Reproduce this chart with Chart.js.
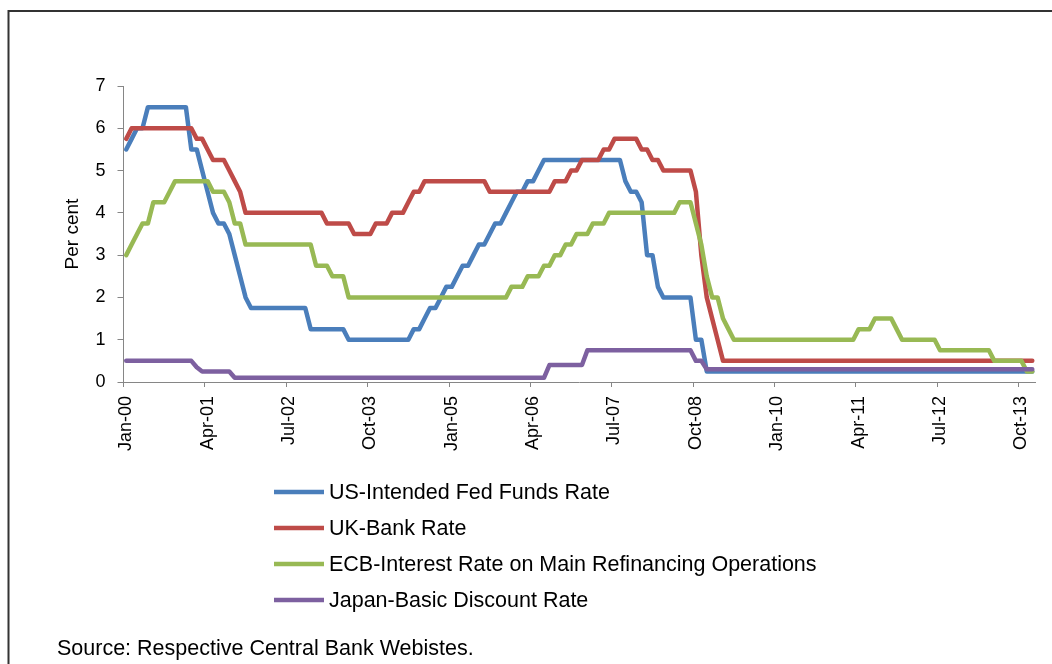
<!DOCTYPE html>
<html>
<head>
<meta charset="utf-8">
<title>Policy rates</title>
<script src="https://cdn.jsdelivr.net/npm/chart.js@4.4.0/dist/chart.umd.min.js"></script>
<style>
  html, body { margin: 0; padding: 0; background: #fff; }
  #wrap { position: relative; width: 1052px; height: 664px; }
</style>
</head>
<body>
<div id="wrap"><canvas id="rates"></canvas></div>
<script>
// Month-end policy rates, Jan-2000 .. Dec-2013 (one row per year)
const monthNames = ['Jan', 'Feb', 'Mar', 'Apr', 'May', 'Jun', 'Jul', 'Aug', 'Sep', 'Oct', 'Nov', 'Dec'];
const years = ['00', '01', '02', '03', '04', '05', '06', '07', '08', '09', '10', '11', '12', '13'];

const usRate = [
  5.50, 5.75, 6.00, 6.00, 6.50, 6.50, 6.50, 6.50, 6.50, 6.50, 6.50, 6.50,
  5.50, 5.50, 5.00, 4.50, 4.00, 3.75, 3.75, 3.50, 3.00, 2.50, 2.00, 1.75,
  1.75, 1.75, 1.75, 1.75, 1.75, 1.75, 1.75, 1.75, 1.75, 1.75, 1.25, 1.25,
  1.25, 1.25, 1.25, 1.25, 1.25, 1.00, 1.00, 1.00, 1.00, 1.00, 1.00, 1.00,
  1.00, 1.00, 1.00, 1.00, 1.00, 1.25, 1.25, 1.50, 1.75, 1.75, 2.00, 2.25,
  2.25, 2.50, 2.75, 2.75, 3.00, 3.25, 3.25, 3.50, 3.75, 3.75, 4.00, 4.25,
  4.50, 4.50, 4.75, 4.75, 5.00, 5.25, 5.25, 5.25, 5.25, 5.25, 5.25, 5.25,
  5.25, 5.25, 5.25, 5.25, 5.25, 5.25, 5.25, 5.25, 4.75, 4.50, 4.50, 4.25,
  3.00, 3.00, 2.25, 2.00, 2.00, 2.00, 2.00, 2.00, 2.00, 1.00, 1.00, 0.25,
  0.25, 0.25, 0.25, 0.25, 0.25, 0.25, 0.25, 0.25, 0.25, 0.25, 0.25, 0.25,
  0.25, 0.25, 0.25, 0.25, 0.25, 0.25, 0.25, 0.25, 0.25, 0.25, 0.25, 0.25,
  0.25, 0.25, 0.25, 0.25, 0.25, 0.25, 0.25, 0.25, 0.25, 0.25, 0.25, 0.25,
  0.25, 0.25, 0.25, 0.25, 0.25, 0.25, 0.25, 0.25, 0.25, 0.25, 0.25, 0.25,
  0.25, 0.25, 0.25, 0.25, 0.25, 0.25, 0.25, 0.25, 0.25, 0.25, 0.25, 0.25
];

const ukRate = [
  5.75, 6.00, 6.00, 6.00, 6.00, 6.00, 6.00, 6.00, 6.00, 6.00, 6.00, 6.00,
  6.00, 5.75, 5.75, 5.50, 5.25, 5.25, 5.25, 5.00, 4.75, 4.50, 4.00, 4.00,
  4.00, 4.00, 4.00, 4.00, 4.00, 4.00, 4.00, 4.00, 4.00, 4.00, 4.00, 4.00,
  4.00, 3.75, 3.75, 3.75, 3.75, 3.75, 3.50, 3.50, 3.50, 3.50, 3.75, 3.75,
  3.75, 4.00, 4.00, 4.00, 4.25, 4.50, 4.50, 4.75, 4.75, 4.75, 4.75, 4.75,
  4.75, 4.75, 4.75, 4.75, 4.75, 4.75, 4.75, 4.50, 4.50, 4.50, 4.50, 4.50,
  4.50, 4.50, 4.50, 4.50, 4.50, 4.50, 4.50, 4.75, 4.75, 4.75, 5.00, 5.00,
  5.25, 5.25, 5.25, 5.25, 5.50, 5.50, 5.75, 5.75, 5.75, 5.75, 5.75, 5.50,
  5.50, 5.25, 5.25, 5.00, 5.00, 5.00, 5.00, 5.00, 5.00, 4.50, 3.00, 2.00,
  1.50, 1.00, 0.50, 0.50, 0.50, 0.50, 0.50, 0.50, 0.50, 0.50, 0.50, 0.50,
  0.50, 0.50, 0.50, 0.50, 0.50, 0.50, 0.50, 0.50, 0.50, 0.50, 0.50, 0.50,
  0.50, 0.50, 0.50, 0.50, 0.50, 0.50, 0.50, 0.50, 0.50, 0.50, 0.50, 0.50,
  0.50, 0.50, 0.50, 0.50, 0.50, 0.50, 0.50, 0.50, 0.50, 0.50, 0.50, 0.50,
  0.50, 0.50, 0.50, 0.50, 0.50, 0.50, 0.50, 0.50, 0.50, 0.50, 0.50, 0.50
];

const ecbRate = [
  3.00, 3.25, 3.50, 3.75, 3.75, 4.25, 4.25, 4.25, 4.50, 4.75, 4.75, 4.75,
  4.75, 4.75, 4.75, 4.75, 4.50, 4.50, 4.50, 4.25, 3.75, 3.75, 3.25, 3.25,
  3.25, 3.25, 3.25, 3.25, 3.25, 3.25, 3.25, 3.25, 3.25, 3.25, 3.25, 2.75,
  2.75, 2.75, 2.50, 2.50, 2.50, 2.00, 2.00, 2.00, 2.00, 2.00, 2.00, 2.00,
  2.00, 2.00, 2.00, 2.00, 2.00, 2.00, 2.00, 2.00, 2.00, 2.00, 2.00, 2.00,
  2.00, 2.00, 2.00, 2.00, 2.00, 2.00, 2.00, 2.00, 2.00, 2.00, 2.00, 2.25,
  2.25, 2.25, 2.50, 2.50, 2.50, 2.75, 2.75, 3.00, 3.00, 3.25, 3.25, 3.50,
  3.50, 3.50, 3.75, 3.75, 3.75, 4.00, 4.00, 4.00, 4.00, 4.00, 4.00, 4.00,
  4.00, 4.00, 4.00, 4.00, 4.00, 4.00, 4.25, 4.25, 4.25, 3.75, 3.25, 2.50,
  2.00, 2.00, 1.50, 1.25, 1.00, 1.00, 1.00, 1.00, 1.00, 1.00, 1.00, 1.00,
  1.00, 1.00, 1.00, 1.00, 1.00, 1.00, 1.00, 1.00, 1.00, 1.00, 1.00, 1.00,
  1.00, 1.00, 1.00, 1.25, 1.25, 1.25, 1.50, 1.50, 1.50, 1.50, 1.25, 1.00,
  1.00, 1.00, 1.00, 1.00, 1.00, 1.00, 0.75, 0.75, 0.75, 0.75, 0.75, 0.75,
  0.75, 0.75, 0.75, 0.75, 0.50, 0.50, 0.50, 0.50, 0.50, 0.50, 0.25, 0.25
];

const japanRate = [
  0.50, 0.50, 0.50, 0.50, 0.50, 0.50, 0.50, 0.50, 0.50, 0.50, 0.50, 0.50,
  0.50, 0.35, 0.25, 0.25, 0.25, 0.25, 0.25, 0.25, 0.10, 0.10, 0.10, 0.10,
  0.10, 0.10, 0.10, 0.10, 0.10, 0.10, 0.10, 0.10, 0.10, 0.10, 0.10, 0.10,
  0.10, 0.10, 0.10, 0.10, 0.10, 0.10, 0.10, 0.10, 0.10, 0.10, 0.10, 0.10,
  0.10, 0.10, 0.10, 0.10, 0.10, 0.10, 0.10, 0.10, 0.10, 0.10, 0.10, 0.10,
  0.10, 0.10, 0.10, 0.10, 0.10, 0.10, 0.10, 0.10, 0.10, 0.10, 0.10, 0.10,
  0.10, 0.10, 0.10, 0.10, 0.10, 0.10, 0.40, 0.40, 0.40, 0.40, 0.40, 0.40,
  0.40, 0.75, 0.75, 0.75, 0.75, 0.75, 0.75, 0.75, 0.75, 0.75, 0.75, 0.75,
  0.75, 0.75, 0.75, 0.75, 0.75, 0.75, 0.75, 0.75, 0.75, 0.50, 0.50, 0.30,
  0.30, 0.30, 0.30, 0.30, 0.30, 0.30, 0.30, 0.30, 0.30, 0.30, 0.30, 0.30,
  0.30, 0.30, 0.30, 0.30, 0.30, 0.30, 0.30, 0.30, 0.30, 0.30, 0.30, 0.30,
  0.30, 0.30, 0.30, 0.30, 0.30, 0.30, 0.30, 0.30, 0.30, 0.30, 0.30, 0.30,
  0.30, 0.30, 0.30, 0.30, 0.30, 0.30, 0.30, 0.30, 0.30, 0.30, 0.30, 0.30,
  0.30, 0.30, 0.30, 0.30, 0.30, 0.30, 0.30, 0.30, 0.30, 0.30, 0.30, 0.30
];

const seriesNames = [
  'US-Intended Fed Funds Rate',
  'UK-Bank Rate',
  'ECB-Interest Rate on Main Refinancing Operations',
  'Japan-Basic Discount Rate'
];
const seriesColors = ['#4A7EBB', '#BE4B48', '#98B954', '#7D60A0'];
const sourceNote = 'Source: Respective Central Bank Webistes.';

const labels = [];
years.forEach(y => monthNames.forEach(m => labels.push(m + '-' + y)));

const axisGrey = '#868686';
const textFont = 'Liberation Sans';

// frame, legend and source line drawn around the plot
const extras = {
  id: 'extras',
  beforeDraw(chart) {
    const ctx = chart.ctx;
    ctx.save();
    ctx.fillStyle = '#fff';
    ctx.fillRect(0, 0, chart.width, chart.height);
    ctx.strokeStyle = '#333';
    ctx.lineWidth = 2;
    ctx.strokeRect(8.5, 11, chart.width + 40, chart.height + 40);
    ctx.restore();
  },
  afterDraw(chart) {
    const ctx = chart.ctx;
    ctx.save();
    ctx.font = '21.5px "' + textFont + '"';
    ctx.textBaseline = 'middle';
    chart.data.datasets.forEach((ds, i) => {
      const y = 492 + i * 36;
      ctx.strokeStyle = ds.borderColor;
      ctx.lineWidth = 4.5;
      ctx.beginPath();
      ctx.moveTo(274, y);
      ctx.lineTo(324, y);
      ctx.stroke();
      ctx.fillStyle = '#000';
      ctx.fillText(ds.label, 329, y + 1);
    });
    ctx.fillText(sourceNote, 57, 649);
    ctx.restore();
  }
};

const allSeries = [usRate, ukRate, ecbRate, japanRate];

new Chart(document.getElementById('rates'), {
  type: 'line',
  data: {
    labels: labels,
    datasets: allSeries.map((values, i) => ({
      label: seriesNames[i],
      data: values,
      borderColor: seriesColors[i],
      backgroundColor: seriesColors[i],
      order: allSeries.length - 1 - i,   // later series on top, like Excel
      fill: false
    }))
  },
  options: {
    responsive: true,
    maintainAspectRatio: false,
    animation: false,
    layout: { padding: { left: 56, top: 86, right: 17, bottom: 212 } },
    plugins: {
      legend: { display: false },
      tooltip: { enabled: false }
    },
    elements: {
      point: { radius: 0 },
      line: { tension: 0, borderWidth: 4.5, borderJoinStyle: 'round', borderCapStyle: 'round' }
    },
    scales: {
      x: {
        type: 'category',
        offset: true,
        grid: {
          offset: true,
          drawOnChartArea: false,
          tickLength: 5,
          color: ctx => ctx.index % 15 === 0 ? axisGrey : 'rgba(0,0,0,0)',
          tickColor: ctx => ctx.index % 15 === 0 ? axisGrey : 'rgba(0,0,0,0)'
        },
        border: { color: axisGrey, width: 1 },
        ticks: {
          autoSkip: false,
          minRotation: 90,
          maxRotation: 90,
          padding: 9,
          color: '#000',
          font: { family: textFont, size: 18 },
          callback: function (value, index) {
            return index % 15 === 0 ? this.getLabelForValue(value) : '';
          }
        },
        afterFit(scale) {
          scale.height = 70;
          scale.paddingLeft = 0;
          scale.paddingRight = 0;
        }
      },
      y: {
        min: 0,
        max: 7,
        ticks: {
          stepSize: 1,
          padding: 12,
          color: '#000',
          font: { family: textFont, size: 18 }
        },
        grid: { drawOnChartArea: false, tickLength: 6, color: axisGrey },
        border: { color: axisGrey, width: 1 },
        title: {
          display: true,
          text: 'Per cent',
          color: '#000',
          font: { family: textFont, size: 19 },
          padding: { top: 5, bottom: 0 }
        },
        afterFit(scale) {
          scale.width = 67.5;
          scale.paddingTop = 0;
          scale.paddingBottom = 0;
        }
      }
    }
  },
  plugins: [extras]
});
</script>
</body>
</html>
